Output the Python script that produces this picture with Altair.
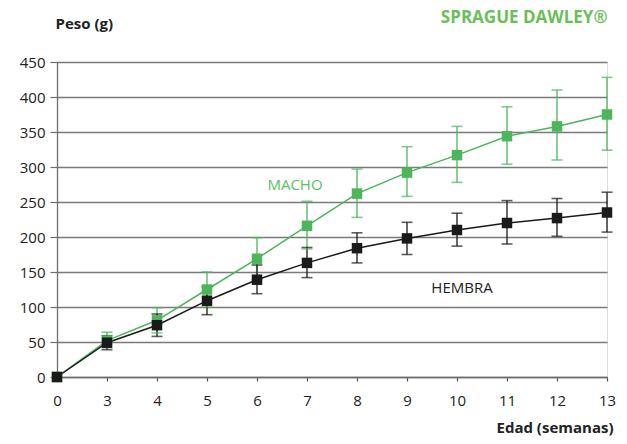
import altair as alt
import pandas as pd

weeks = ["0", "3", "4", "5", "6", "7", "8", "9", "10", "11", "12", "13"]
macho_mean = [0, 52, 81, 125, 169, 216, 262, 292, 317, 344, 358, 375]
macho_low = [0, 42, 63, 100, 139, 183, 228, 258, 278, 304, 310, 324]
macho_high = [0, 64, 99, 150, 199, 251, 297, 329, 358, 386, 410, 428]
hembra_mean = [0, 49, 74, 109, 139, 163, 184, 198, 210, 220, 227, 235]
hembra_low = [0, 39, 58, 89, 119, 142, 163, 175, 187, 190, 201, 207]
hembra_high = [0, 59, 90, 129, 160, 185, 206, 221, 234, 252, 255, 264]
y_ticks = [0, 50, 100, 150, 200, 250, 300, 350, 400, 450]

series = ["MACHO", "HEMBRA"]
colors = ["#4db55b", "#1a1a1a"]
label_colors = ["#5dbf5f", "#222222"]
label_week = ["7", "10"]
label_value = [274, 127]
label_dx = [-12, 5]

rows = []
for s, means, lows, highs in [("MACHO", macho_mean, macho_low, macho_high),
                              ("HEMBRA", hembra_mean, hembra_low, hembra_high)]:
    for i, (w, m, lo, hi) in enumerate(zip(weeks, means, lows, highs)):
        rows.append({"serie": s, "semana": w, "idx": i, "peso": m, "lo": lo, "hi": hi})
df = pd.DataFrame(rows)
df_err = df[df["semana"] != "0"]

FONT = "Open Sans"

xscale = alt.Scale(type="point", domain=weeks, padding=0)
yscale = alt.Scale(domain=[0, 450], nice=False, zero=True)
cscale = alt.Scale(domain=series, range=colors)

x_ax = alt.Axis(title="Edad (semanas)", labelAngle=0, grid=False,
                domainColor="#6e6e6e", domainWidth=1.3,
                tickColor="#555555", tickSize=4, tickWidth=1.2,
                labelPadding=12, labelFontSize=15, labelColor="#222222",
                labelFont=FONT,
                titleFont=FONT, titleFontSize=15, titleFontWeight="bold",
                titleColor="#222222", titleAlign="right",
                titleBaseline="alphabetic", titleX=556, titleY=55,
                titleAnchor="end")
y_ax = alt.Axis(title="Peso (g)", values=y_ticks, labelOverlap=False,
                grid=True, gridColor="#7a7a7a", gridWidth=1.3,
                domainColor="#6e6e6e", domainWidth=1.3,
                tickColor="#6e6e6e", tickSize=7, tickWidth=1.2,
                labelPadding=5, labelFontSize=15, labelColor="#222222",
                labelFont=FONT,
                titleFont=FONT, titleFontSize=15, titleFontWeight="bold",
                titleColor="#222222", titleAngle=0, titleAlign="left",
                titleBaseline="alphabetic", titleX=-2, titleY=-34)


def X():
    return alt.X("semana:O", scale=xscale, sort=weeks, axis=x_ax)


def Y(field):
    return alt.Y(f"{field}:Q", scale=yscale, axis=y_ax)


color_enc = alt.Color("serie:N", scale=cscale, legend=None)

base = alt.Chart(df)
err_base = alt.Chart(df_err)

lines = base.mark_line(strokeWidth=1.5).encode(
    x=X(), y=Y("peso"), color=color_enc, order=alt.Order("idx:Q"))
rules = err_base.mark_rule(strokeWidth=1.3).encode(
    x=X(), y=Y("lo"), y2="hi:Q", color=color_enc)
caps_hi = err_base.mark_tick(size=11, thickness=1.6).encode(
    x=X(), y=Y("hi"), color=color_enc)
caps_lo = err_base.mark_tick(size=11, thickness=1.6).encode(
    x=X(), y=Y("lo"), color=color_enc)
points = base.mark_square(size=110, opacity=1, filled=True).encode(
    x=X(), y=Y("peso"), color=color_enc)

labels_df = pd.DataFrame({"serie": series, "semana": label_week, "peso": label_value})
label_layers = []
for i, s in enumerate(series):
    label_layers.append(
        alt.Chart(labels_df[labels_df["serie"] == s]).mark_text(
            font=FONT, fontSize=15, color=label_colors[i], dx=label_dx[i],
            align="center", baseline="middle").encode(
            x=X(), y=Y("peso"), text="serie:N"))

chart = alt.layer(lines, rules, caps_hi, caps_lo, points, *label_layers).properties(
    width=550, height=315,
    title=alt.TitleParams("SPRAGUE DAWLEY®", anchor="end", font=FONT, fontSize=17,
                          fontWeight="bold", color="#6abf59", offset=0,
                          baseline="alphabetic", dx=-8, dy=24),
    padding={"left": 49, "top": 54, "right": 12, "bottom": 59},
    autosize=alt.AutoSizeParams(type="none"),
).configure_view(stroke="#7a7a7a", strokeWidth=1.3).configure(background="white")

chart.save("out.html", embed_options={"renderer": "svg", "actions": False})
